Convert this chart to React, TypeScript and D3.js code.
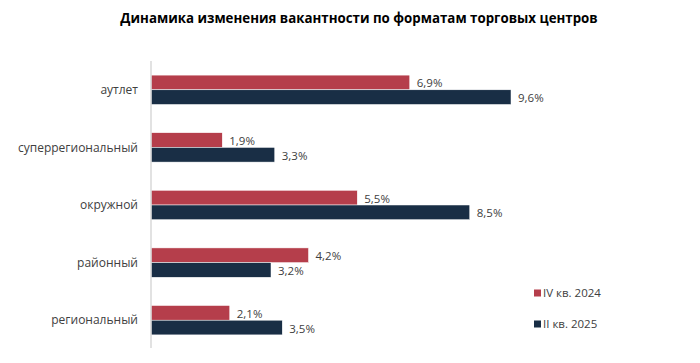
import React from "react";
import * as d3 from "d3";

const categories = ["аутлет", "суперрегиональный", "окружной", "районный", "региональный"];
const seriesNames = ["IV кв. 2024", "II кв. 2025"];
const valuesQ4_2024 = [6.9, 1.9, 5.5, 4.2, 2.1];
const valuesQ2_2025 = [9.6, 3.3, 8.5, 3.2, 3.5];
const colors = ["#B53E4B", "#192E45"];

const width = 700;
const height = 363;
const font = "'Open Sans', 'Noto Sans', sans-serif";

const App = () => {
  const x = d3.scaleLinear().domain([0, 9.6]).range([151, 511]);
  const y = d3.scaleBand().domain(categories).range([61, 349]).paddingInner(0.49).paddingOuter(0.245);
  const inner = d3.scaleBand().domain(seriesNames).range([0, y.bandwidth()]);
  const series = [valuesQ4_2024, valuesQ2_2025];
  const fmt = (v: number) => v.toFixed(1).replace(".", ",") + "%";

  return (
    <svg width={width} height={height} style={{ position: "absolute", left: 0, top: 0, background: "#fff" }}>
      <text x={359} y={23} textAnchor="middle" fontFamily={font} fontWeight="bold" fontSize={13.3} fill="#000">
        Динамика изменения вакантности по форматам торговых центров
      </text>
      {categories.map((c, i) => (
        <g key={c}>
          <text
            x={138}
            y={(y(c) as number) + y.bandwidth() / 2}
            dy="0.35em"
            textAnchor="end"
            fontFamily={font}
            fontSize={12}
            fill="#404040"
          >
            {c}
          </text>
          {series.map((vals, s) => {
            const by = (y(c) as number) + (inner(seriesNames[s]) as number);
            return (
              <g key={s}>
                <rect
                  x={x(0)}
                  y={by}
                  width={x(vals[i]) - x(0)}
                  height={inner.bandwidth()}
                  fill={colors[s]}
                  stroke="#fff"
                  strokeWidth={0.5}
                />
                <text
                  x={x(vals[i]) + 7}
                  y={by + inner.bandwidth() / 2 + 1}
                  dy="0.35em"
                  fontFamily={font}
                  fontSize={11.5}
                  fill="#404040"
                >
                  {fmt(vals[i])}
                </text>
              </g>
            );
          })}
        </g>
      ))}
      <line x1={151} x2={151} y1={61} y2={348} stroke="#d9d9d9" strokeWidth={1.5} />
      {seriesNames.map((n, s) => (
        <g key={n} transform={`translate(534, ${293 + s * 31})`}>
          <rect x={0} y={-3.5} width={7} height={7} fill={colors[s]} />
          <text x={9} y={0} dy="0.35em" fontFamily={font} fontSize={11.5} fill="#404040">
            {n}
          </text>
        </g>
      ))}
    </svg>
  );
};

export default App;
